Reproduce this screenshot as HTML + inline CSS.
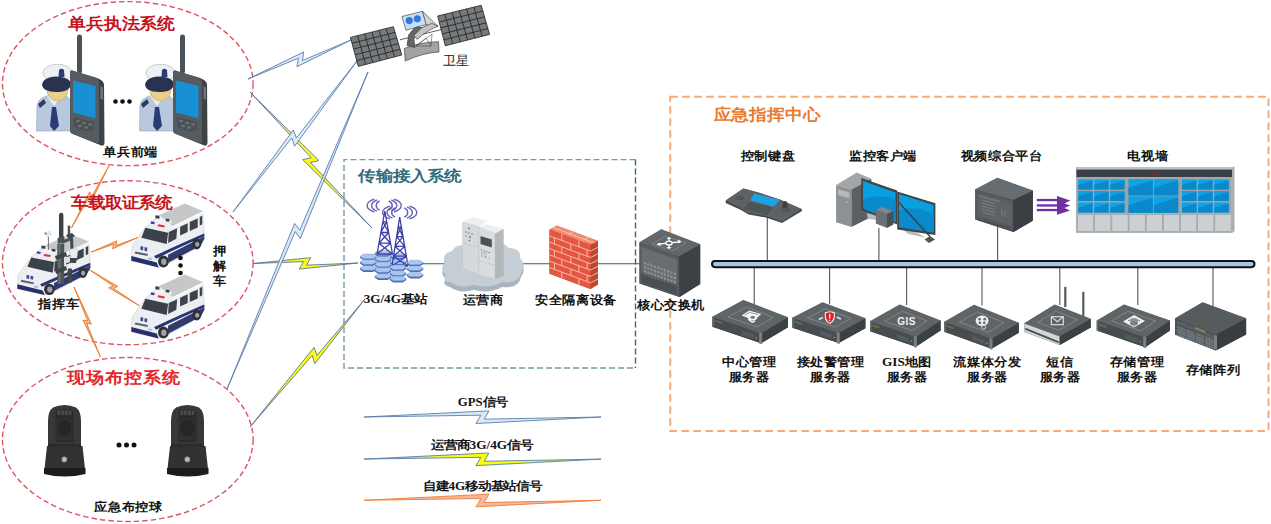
<!DOCTYPE html>
<html><head><meta charset="utf-8"><title>diagram</title>
<style>html,body{margin:0;padding:0;background:#fff;}body{width:1271px;height:524px;overflow:hidden;font-family:"Liberation Serif",serif;}svg{display:block;}</style>
</head><body>
<svg width="1271" height="524" viewBox="0 0 1271 524">
<defs>
<linearGradient id="gy" x1="0" y1="0" x2="1" y2="0"><stop offset="0" stop-color="#dbe9f6"/><stop offset="1" stop-color="#dbe9f6"/></linearGradient>
</defs>
<ellipse cx="127.8" cy="83.6" rx="125.3" ry="82" fill="none" stroke="#dc5563" stroke-width="1.4" stroke-dasharray="5.5 3"/>
<ellipse cx="127.8" cy="262.7" rx="125.3" ry="82" fill="none" stroke="#dc5563" stroke-width="1.4" stroke-dasharray="5.5 3"/>
<ellipse cx="127.8" cy="439.5" rx="125.3" ry="82" fill="none" stroke="#dc5563" stroke-width="1.4" stroke-dasharray="5.5 3"/>
<path d="M635.5,159.6 L344,159.6 L344,368 L635.5,368" fill="none" stroke="#7799a6" stroke-width="1.4" stroke-dasharray="6 3"/>
<path d="M635.5,159.6 L635.5,368" fill="none" stroke="#3b6878" stroke-width="1.4" stroke-dasharray="6 3"/>
<rect x="670.2" y="96.8" width="598.3" height="334.2" fill="none" stroke="#f3ab78" stroke-width="2" stroke-dasharray="7.6 4.4"/>
<linearGradient id="yg8" gradientUnits="userSpaceOnUse" x1="250" y1="92" x2="372" y2="228"><stop offset="0" stop-color="#a9b8c2"/><stop offset="0.3" stop-color="#f4f430"/><stop offset="0.5" stop-color="#ffff00"/><stop offset="0.72" stop-color="#f4f430"/><stop offset="1" stop-color="#a9b8c2"/></linearGradient>
<polygon points="250.0,92.0 318.9,160.6 310.6,162.5 372.0,228.0 302.7,159.6 311.2,157.8" fill="url(#yg8)" stroke="#5a7499" stroke-width="0.9" stroke-linejoin="miter"/>
<linearGradient id="yg10" gradientUnits="userSpaceOnUse" x1="253" y1="263.5" x2="358" y2="263"><stop offset="0" stop-color="#a9b8c2"/><stop offset="0.3" stop-color="#f4f430"/><stop offset="0.5" stop-color="#ffff00"/><stop offset="0.72" stop-color="#f4f430"/><stop offset="1" stop-color="#a9b8c2"/></linearGradient>
<polygon points="253.0,263.5 310.7,257.7 306.6,265.2 358.0,263.0 299.2,269.1 303.6,261.6" fill="url(#yg10)" stroke="#5a7499" stroke-width="0.9" stroke-linejoin="miter"/>
<linearGradient id="yg12" gradientUnits="userSpaceOnUse" x1="250" y1="427" x2="365" y2="299"><stop offset="0" stop-color="#a9b8c2"/><stop offset="0.3" stop-color="#f4f430"/><stop offset="0.5" stop-color="#ffff00"/><stop offset="0.72" stop-color="#f4f430"/><stop offset="1" stop-color="#a9b8c2"/></linearGradient>
<polygon points="250.0,427.0 314.1,347.4 316.9,355.5 365.0,299.0 314.8,363.6 312.2,355.4" fill="url(#yg12)" stroke="#5a7499" stroke-width="0.9" stroke-linejoin="miter"/>
<polygon points="248.0,79.0 303.7,52.0 302.5,60.5 351.0,40.0 296.9,66.7 298.4,58.2" fill="#d9eaf6" stroke="#5a7dab" stroke-width="0.9" stroke-linejoin="miter"/>
<polygon points="233.0,212.0 293.3,130.0 296.4,137.9 357.0,61.0 294.7,146.1 291.7,138.0" fill="#d9eaf6" stroke="#5a7dab" stroke-width="0.9" stroke-linejoin="miter"/>
<polygon points="227.0,389.0 294.6,223.4 299.8,230.2 368.0,72.0 300.3,238.6 295.2,231.6" fill="#d9eaf6" stroke="#5a7dab" stroke-width="0.9" stroke-linejoin="miter"/>
<polygon points="71.5,227.9 89.6,191.9 92.0,196.1 109.2,165.3 91.7,200.7 89.4,196.5" fill="#f4b8a0" stroke="#ed7d31" stroke-width="1.0" stroke-linejoin="miter"/>
<polygon points="91.1,252.1 116.8,240.9 115.8,245.6 137.7,237.6 112.5,248.8 113.6,244.2" fill="#f4b8a0" stroke="#ed7d31" stroke-width="1.0" stroke-linejoin="miter"/>
<polygon points="88.8,269.4 117.8,286.4 113.5,288.5 139.2,305.6 108.8,287.8 113.3,285.9" fill="#f4b8a0" stroke="#ed7d31" stroke-width="1.0" stroke-linejoin="miter"/>
<polygon points="74.0,287.0 91.3,324.0 86.6,323.3 100.5,357.0 83.1,320.2 87.8,321.0" fill="#f4b8a0" stroke="#ed7d31" stroke-width="1.0" stroke-linejoin="miter"/>
<polygon points="364.0,417.0 488.9,410.9 484.3,419.2 601.0,417.0 476.0,423.5 480.9,415.2" fill="#d9eaf6" stroke="#5a7dab" stroke-width="0.9" stroke-linejoin="miter"/>
<linearGradient id="yg22" gradientUnits="userSpaceOnUse" x1="364" y1="459.1" x2="601" y2="459.1"><stop offset="0" stop-color="#a9b8c2"/><stop offset="0.3" stop-color="#f4f430"/><stop offset="0.5" stop-color="#ffff00"/><stop offset="0.72" stop-color="#f4f430"/><stop offset="1" stop-color="#a9b8c2"/></linearGradient>
<polygon points="364.0,459.1 488.9,453.0 484.3,461.3 601.0,459.1 476.0,465.6 480.9,457.3" fill="url(#yg22)" stroke="#5a7dab" stroke-width="0.9" stroke-linejoin="miter"/>
<polygon points="364.0,500.3 488.9,494.2 484.3,502.5 601.0,500.3 476.0,506.8 480.9,498.5" fill="#f4b8a0" stroke="#ed7d31" stroke-width="0.9" stroke-linejoin="miter"/>
<g stroke="#555" stroke-width="1.1">
<line x1="420" y1="263.8" x2="700" y2="263.8"/>
<line x1="767.3" y1="215.7" x2="767.3" y2="261"/>
<line x1="878.9" y1="228" x2="878.9" y2="261"/>
<line x1="997.6" y1="225.6" x2="997.6" y2="261"/>
<line x1="754.2" y1="267" x2="754.2" y2="304.7"/>
<line x1="829.6" y1="267" x2="829.6" y2="304"/>
<line x1="906.6" y1="267" x2="906.6" y2="305"/>
<line x1="982" y1="267" x2="982" y2="305.5"/>
<line x1="1059.8" y1="267" x2="1059.8" y2="305"/>
<line x1="1137.8" y1="267" x2="1137.8" y2="305"/>
<line x1="1213" y1="267" x2="1213" y2="306"/>
</g>
<rect x="712" y="261" width="542.5" height="6.2" rx="3.1" fill="#a9c3e2" stroke="#111" stroke-width="2"/>

<g id="off">
 <path d="M36.5,131 L37,106 Q38,98 47,96 L66,96 Q71,98 71,106 L71,131 Z" fill="#b9c9dd" stroke="#8fa2ba" stroke-width="0.6"/>
 <path d="M38,104 L44,99 L46,103 L40,108Z" fill="#2e3a66"/>
 <path d="M47,96 L54,106 L61,96Z" fill="#e9eef4"/>
 <path d="M52,107 L56,107 L59,126 L54,131 L50,126Z" fill="#2b3b78"/>
 <ellipse cx="57.5" cy="90" rx="10.5" ry="11" fill="#e9cf8c" stroke="#b39a5c" stroke-width="0.5"/>
 <ellipse cx="57.5" cy="73" rx="14.5" ry="8.8" fill="#eef1f4" stroke="#a9aeb4" stroke-width="0.6"/>
 <path d="M42,85 Q43,77 56,76.5 Q70,77 71,84 Q70,92 56,92 Q43,92 42,85Z" fill="#2a3252"/>
 <path d="M59,70 Q61.5,67.5 64,70 L64.5,77 L58.5,77Z" fill="#2f3c78"/>
 <rect x="77" y="34.5" width="5" height="39" rx="2.5" fill="#4b5257"/>
 <path d="M72,70.5 L97,78 Q103,80 104,84 L104.5,143 Q104,147 100,145 L73,134 Q70,133 70,130 L70,73 Q70,70 72,70.5Z" fill="#3c4246"/>
 <path d="M72,70.5 L96,77.8 Q99,79 99,82 L99,141 Q99,144 96,143 L73,134 Q70,133 70,130 L70,73 Q70,70 72,70.5Z" fill="#555b60"/>
 <path d="M100.5,86 L103,87.5 L103,100 L100.5,98.5Z" fill="#70767a"/>
 <path d="M73,80.5 L95.5,86 L95.5,118.5 L73,112.5Z" fill="#1890d6"/>
 <path d="M74,117 L94,122 L94,130 Q84,133 74,126Z" fill="#4a5054"/>
 <g fill="#6d7377"><ellipse cx="78" cy="121" rx="2" ry="1.2"/><ellipse cx="84" cy="123" rx="2" ry="1.2"/><ellipse cx="90" cy="124.5" rx="2" ry="1.2"/><ellipse cx="80" cy="126" rx="2" ry="1.2"/><ellipse cx="86" cy="127.5" rx="2" ry="1.2"/></g>
</g>
<use href="#off" transform="translate(103,0)"/>
<g fill="#111"><circle cx="115.5" cy="101.5" r="2.3"/><circle cx="122.5" cy="101.5" r="2.3"/><circle cx="129.5" cy="101.5" r="2.3"/></g>
<g transform="translate(128,200)">
<g id="van"><g transform="scale(0.13356)">
 <path d="M30,345 L130,205 L235,115 L425,28 L560,85 L572,275 L545,340 L300,480 L230,505 L25,455Z" fill="#eceef1" stroke="#b4b9bf" stroke-width="3"/>
 <path d="M235,115 L425,28 L560,85 L335,195Z" fill="#c5c7c9"/>
 <path d="M335,195 L560,85 L562,105 L338,215Z" fill="#f6f7f8"/>
 <path d="M130,208 L300,245 L290,330 L100,282Z" fill="#3b4148"/>
 <path d="M305,240 L368,212 L362,290 L300,322Z M390,200 L447,174 L447,240 L390,266Z M462,165 L522,138 L522,205 L462,232Z M537,128 L556,118 L556,182 L537,192Z" fill="#3d434a"/>
 <path d="M195,420 Q330,355 570,250 L572,272 Q330,380 210,440Z" fill="#2a3470"/>
 <path d="M300,410 L572,272 L572,290 L545,340 L300,470Z" fill="#2f3a6e"/>
 <path d="M25,420 L215,468 L230,505 L25,455Z" fill="#28306a"/>
 <path d="M55,385 L150,405 L145,420 L50,400Z" fill="#5d6470"/>
 <ellipse cx="165" cy="440" rx="20" ry="10" fill="#b9c7d4"/>
 <path d="M95,345 L115,350 L112,378 L92,372Z M125,352 L145,357 L142,385 L122,379Z" fill="#3e4d8c"/>
 <path d="M205,138 L320,150 L330,175 L215,165Z" fill="#f2f3f5"/>
 <path d="M225,182 L275,190 L272,205 L222,197Z" fill="#e5303c"/>
 <path d="M172,160 L200,165 L198,182 L170,177Z" fill="#3340b4"/>
 <path d="M205,115 L235,118 L235,140 L205,137Z M282,140 L310,143 L310,163 L282,160Z" fill="#3c4046"/>
 <ellipse cx="265" cy="460" rx="40" ry="45" fill="#2d3134"/><ellipse cx="268" cy="462" rx="20" ry="24" fill="#9ca2a7"/>
 <ellipse cx="515" cy="330" rx="33" ry="40" fill="#2d3134"/><ellipse cx="518" cy="332" rx="16" ry="20" fill="#9ca2a7"/>
</g></g></g>
<g transform="translate(128,271)"><use href="#van"/></g>
<g fill="#111"><circle cx="180.5" cy="258" r="2.3"/><circle cx="180.5" cy="265.5" r="2.3"/><circle cx="180.5" cy="273" r="2.3"/></g>
<g transform="translate(14,231) scale(1.0,0.95)"><use href="#van"/></g>
<g>
 <rect x="59" y="212.7" width="4.4" height="26" rx="2.2" fill="#3b4245"/>
 <rect x="67.7" y="225.6" width="2.5" height="10" fill="#4a5256"/>
 <path d="M66,235 L72,233 L75,236 L69,239Z" fill="#40484b"/>
 <path d="M57.5,238 L64,236 L65,242 L58,244Z" fill="#4a5256"/>
 <path d="M60.8,241 L72,236.8 L73,239.5 L62,244Z" fill="#4c5458"/>
 <path d="M70,238 L73,237 L73.5,250 L70.5,251Z" fill="#454c50"/>
 <rect x="57.3" y="244" width="6.9" height="40" fill="#4b5357"/>
 <rect x="58.5" y="244" width="2" height="40" fill="#6a7276"/>
 <path d="M55,256 L66,252 L67,256 L56,260Z" fill="#3e4548"/>
 <path d="M55,270 L66,266 L67,270 L56,274Z" fill="#3e4548"/>
 <path d="M64,258 L70,256 L70,262 L64,264Z" fill="#dde0e2"/>
 <path d="M69.4,249.5 Q73.7,247.5 78,249.5 L77,258 Q73.5,261 70.5,258Z" fill="#e9ebec" stroke="#a7acb0" stroke-width="0.4"/>
 <path d="M70.5,258 L77,258 L76,263 L71.5,263Z" fill="#3f474a"/>
 <rect x="67.7" y="268.6" width="4.3" height="13.8" rx="1" fill="#3e4548"/>
 <rect x="47.9" y="236" width="1" height="14" fill="#6a7074"/>
 <path d="M44.5,232 L50,230.8 L52.2,235 L47,237.7Z" fill="#dbe6f0"/>
 <circle cx="45.5" cy="233.5" r="1.1" fill="#3a7fcf"/>
</g>

<g id="cam">
 <path d="M47,446 L82.5,446 L85,469 L44.5,469Z" fill="#323232"/>
 <path d="M44,468 L85.5,468 L85.5,474 Q64.5,479 44,474Z" fill="#1c1c1c"/>
 <path d="M48,446 L48,421 Q48,411 53,407.5 Q58,405 64.5,405 Q71,405 76,407.5 Q81,411 81,421 L81,446Z" fill="#383838"/>
 <path d="M55.5,442 L55.5,413 Q55.5,409.5 59,409.5 L70,409.5 Q73.5,409.5 73.5,413 L73.5,442Z" fill="#2a2a2a"/>
 <path d="M57.5,410.5 L71.5,410.5 L71.5,415 L57.5,415Z" fill="#4a4a4a"/>
 <g stroke="#2a2a2a" stroke-width="0.8"><path d="M60.5,410.5 V415 M64.5,410.5 V415 M68.5,410.5 V415"/></g>
 <path d="M56.5,420 Q64.5,416 72.5,420 L72.5,440 L56.5,440Z" fill="#303030"/>
 <ellipse cx="64.5" cy="428" rx="7" ry="8" fill="#262626"/>
 <path d="M48,444 L81,444 L81,447 L48,447Z" fill="#2b2b2b"/>
 <circle cx="64.3" cy="459.4" r="2.8" fill="#a0a0a0"/>
 <circle cx="64.3" cy="459.4" r="1.2" fill="#d0d0d0"/>
</g>
<use href="#cam" transform="translate(123,0)"/>
<g fill="#111"><circle cx="119" cy="445" r="2.5"/><circle cx="126.5" cy="445" r="2.5"/><circle cx="134" cy="445" r="2.5"/></g>
<line x1="400" y1="39.8" x2="442" y2="29.4" stroke="#333" stroke-width="0.8"/>
<path d="M350.4,37.4 L393.4,26.7 L401.8,55 L358.3,66.4Z" fill="#777a7c" stroke="#222" stroke-width="0.8"/><path d="M357.6,35.6 L365.6,64.5 M364.7,33.8 L372.8,62.6 M371.9,32.0 L380.1,60.7 M379.1,30.3 L387.3,58.8 M386.2,28.5 L394.6,56.9 M352.0,43.2 L395.1,32.4 M353.6,49.0 L396.8,38.0 M355.1,54.8 L398.4,43.7 M356.7,60.6 L400.1,49.3" stroke="#1e1e1e" stroke-width="0.8" fill="none"/>
<path d="M437.7,16 L481.2,5.3 L489.6,34.4 L445.3,45.8Z" fill="#777a7c" stroke="#222" stroke-width="0.8"/><path d="M444.9,14.2 L452.7,43.9 M452.2,12.4 L460.1,42.0 M459.4,10.7 L467.5,40.1 M466.7,8.9 L474.8,38.2 M473.9,7.1 L482.2,36.3 M439.2,22.0 L482.9,11.1 M440.7,27.9 L484.6,16.9 M442.3,33.9 L486.2,22.8 M443.8,39.8 L487.9,28.6" stroke="#1e1e1e" stroke-width="0.8" fill="none"/>
<g stroke="#333" stroke-width="0.6">
 <path d="M401.9,16.5 L422.5,11.3 L426.5,24.5 L405.9,30.2Z" fill="#c5e0f7"/>
 <circle cx="409.3" cy="20.6" r="3.3" fill="#2f78ef" stroke="#2a4a8a" stroke-width="0.4"/>
 <circle cx="417.3" cy="18.8" r="3.3" fill="#2f78ef" stroke="#2a4a8a" stroke-width="0.4"/>
 <path d="M422.5,11.3 L438,26.2 L426.2,25Z" fill="#d4d4d4"/>
 <path d="M404.2,48.5 Q420,42 438.5,41.7 L439,52 Q422,53 405.3,61.1Z" fill="#a3a3a3"/>
 <path d="M416,46 L432,34 L431,46Z M416,46 L426,38 L431,46" fill="none" stroke="#333" stroke-width="0.5"/>
 <path d="M407,45.6 L408.7,34.8 L413.9,28.5 L417.9,26.8 L422.5,27.9 L416.2,33.6 L413.9,39.4 L415,47.4Z" fill="#666"/>
 <path d="M413.9,35.4 L421.4,27.9 L431.7,23.3 L438,26.2 L430.5,29.6 L422.5,34.8 L417.3,39.4Z" fill="#c2c2c2"/>
</g>
<text x="443" y="65" font-size="12.5" fill="#222" font-family="Liberation Serif, serif">卫星</text>
<g><path d="M374.75,253 L374.75,254.6 L378.25,256.90000000000003 L387.75,256.90000000000003 L391.25,254.6 L391.25,253Z" fill="#4a6cb4"/><path d="M374.75,253 L378.25,250.7 L387.75,250.7 L391.25,253 L387.75,255.3 L378.25,255.3Z" fill="#aac6ee" stroke="#7092d0" stroke-width="0.4"/><path d="M389.75,255.8 L389.75,257.40000000000003 L393.25,259.70000000000005 L402.75,259.70000000000005 L406.25,257.40000000000003 L406.25,255.8Z" fill="#4a6cb4"/><path d="M389.75,255.8 L393.25,253.5 L402.75,253.5 L406.25,255.8 L402.75,258.1 L393.25,258.1Z" fill="#aac6ee" stroke="#7092d0" stroke-width="0.4"/><path d="M360.05,256.4 L360.05,258.0 L363.55,260.3 L373.05,260.3 L376.55,258.0 L376.55,256.4Z" fill="#4a6cb4"/><path d="M360.05,256.4 L363.55,254.09999999999997 L373.05,254.09999999999997 L376.55,256.4 L373.05,258.7 L363.55,258.7Z" fill="#aac6ee" stroke="#7092d0" stroke-width="0.4"/><path d="M374.75,258.7 L374.75,260.3 L378.25,262.6 L387.75,262.6 L391.25,260.3 L391.25,258.7Z" fill="#4a6cb4"/><path d="M374.75,258.7 L378.25,256.4 L387.75,256.4 L391.25,258.7 L387.75,261.0 L378.25,261.0Z" fill="#aac6ee" stroke="#7092d0" stroke-width="0.4"/><path d="M389.75,261.6 L389.75,263.20000000000005 L393.25,265.50000000000006 L402.75,265.50000000000006 L406.25,263.20000000000005 L406.25,261.6Z" fill="#4a6cb4"/><path d="M389.75,261.6 L393.25,259.3 L402.75,259.3 L406.25,261.6 L402.75,263.90000000000003 L393.25,263.90000000000003Z" fill="#aac6ee" stroke="#7092d0" stroke-width="0.4"/></g>
<path d="M384.8,211 L377,254 M384.8,211 L392.5,254 M382.9,221.8 L386.7,221.8 M380.9,232.5 L388.6,232.5 M382.9,221.8 L388.6,232.5 M386.7,221.8 L380.9,232.5 M378.9,243.2 L390.6,243.2 M380.9,232.5 L390.6,243.2 M388.6,232.5 L378.9,243.2 M377.0,254.0 L392.5,254.0 M378.9,243.2 L392.5,254.0 M390.6,243.2 L377.0,254.0" stroke="#3d3da6" stroke-width="1.3" fill="none"/>
<path d="M399.7,217 L392,266 M399.7,217 L408,266 M398.2,226.8 L401.4,226.8 M396.6,236.6 L403.0,236.6 M398.2,226.8 L403.0,236.6 M401.4,226.8 L396.6,236.6 M395.1,246.4 L404.7,246.4 M396.6,236.6 L404.7,246.4 M403.0,236.6 L395.1,246.4 M393.5,256.2 L406.3,256.2 M395.1,246.4 L406.3,256.2 M404.7,246.4 L393.5,256.2 M392.0,266.0 L408.0,266.0 M393.5,256.2 L408.0,266.0 M406.3,256.2 L392.0,266.0" stroke="#3d3da6" stroke-width="1.3" fill="none"/>
<g><path d="M360.05,262 L360.05,263.6 L363.55,265.90000000000003 L373.05,265.90000000000003 L376.55,263.6 L376.55,262Z" fill="#4a6cb4"/><path d="M360.05,262 L363.55,259.7 L373.05,259.7 L376.55,262 L373.05,264.3 L363.55,264.3Z" fill="#aac6ee" stroke="#7092d0" stroke-width="0.4"/><path d="M406.75,262.5 L406.75,264.1 L410.25,266.40000000000003 L419.75,266.40000000000003 L423.25,264.1 L423.25,262.5Z" fill="#4a6cb4"/><path d="M406.75,262.5 L410.25,260.2 L419.75,260.2 L423.25,262.5 L419.75,264.8 L410.25,264.8Z" fill="#aac6ee" stroke="#7092d0" stroke-width="0.4"/><path d="M374.75,264.4 L374.75,266.0 L378.25,268.3 L387.75,268.3 L391.25,266.0 L391.25,264.4Z" fill="#4a6cb4"/><path d="M374.75,264.4 L378.25,262.09999999999997 L387.75,262.09999999999997 L391.25,264.4 L387.75,266.7 L378.25,266.7Z" fill="#aac6ee" stroke="#7092d0" stroke-width="0.4"/><path d="M389.75,267.3 L389.75,268.90000000000003 L393.25,271.20000000000005 L402.75,271.20000000000005 L406.25,268.90000000000003 L406.25,267.3Z" fill="#4a6cb4"/><path d="M389.75,267.3 L393.25,265.0 L402.75,265.0 L406.25,267.3 L402.75,269.6 L393.25,269.6Z" fill="#aac6ee" stroke="#7092d0" stroke-width="0.4"/><path d="M360.05,268 L360.05,269.6 L363.55,271.90000000000003 L373.05,271.90000000000003 L376.55,269.6 L376.55,268Z" fill="#4a6cb4"/><path d="M360.05,268 L363.55,265.7 L373.05,265.7 L376.55,268 L373.05,270.3 L363.55,270.3Z" fill="#aac6ee" stroke="#7092d0" stroke-width="0.4"/><path d="M406.75,268.2 L406.75,269.8 L410.25,272.1 L419.75,272.1 L423.25,269.8 L423.25,268.2Z" fill="#4a6cb4"/><path d="M406.75,268.2 L410.25,265.9 L419.75,265.9 L423.25,268.2 L419.75,270.5 L410.25,270.5Z" fill="#aac6ee" stroke="#7092d0" stroke-width="0.4"/><path d="M374.75,270 L374.75,271.6 L378.25,273.90000000000003 L387.75,273.90000000000003 L391.25,271.6 L391.25,270Z" fill="#4a6cb4"/><path d="M374.75,270 L378.25,267.7 L387.75,267.7 L391.25,270 L387.75,272.3 L378.25,272.3Z" fill="#aac6ee" stroke="#7092d0" stroke-width="0.4"/><path d="M389.75,273 L389.75,274.6 L393.25,276.90000000000003 L402.75,276.90000000000003 L406.25,274.6 L406.25,273Z" fill="#4a6cb4"/><path d="M389.75,273 L393.25,270.7 L402.75,270.7 L406.25,273 L402.75,275.3 L393.25,275.3Z" fill="#aac6ee" stroke="#7092d0" stroke-width="0.4"/><path d="M406.75,274.5 L406.75,276.1 L410.25,278.40000000000003 L419.75,278.40000000000003 L423.25,276.1 L423.25,274.5Z" fill="#4a6cb4"/><path d="M406.75,274.5 L410.25,272.2 L419.75,272.2 L423.25,274.5 L419.75,276.8 L410.25,276.8Z" fill="#aac6ee" stroke="#7092d0" stroke-width="0.4"/><path d="M374.75,276 L374.75,277.6 L378.25,279.90000000000003 L387.75,279.90000000000003 L391.25,277.6 L391.25,276Z" fill="#4a6cb4"/><path d="M374.75,276 L378.25,273.7 L387.75,273.7 L391.25,276 L387.75,278.3 L378.25,278.3Z" fill="#aac6ee" stroke="#7092d0" stroke-width="0.4"/><path d="M389.75,278.5 L389.75,280.1 L393.25,282.40000000000003 L402.75,282.40000000000003 L406.25,280.1 L406.25,278.5Z" fill="#4a6cb4"/><path d="M389.75,278.5 L393.25,276.2 L402.75,276.2 L406.25,278.5 L402.75,280.8 L393.25,280.8Z" fill="#aac6ee" stroke="#7092d0" stroke-width="0.4"/></g>
<g fill="none" stroke="#6462bd" stroke-width="1.4"><path d="M379.6,201.0 A8,5.6 0 0 0 379.6,210.2"/><path d="M388.8,201.0 A8,5.6 0 0 1 388.8,210.2"/><path d="M377.0,200.0 A12.5,6.8 0 0 0 377.0,211.2"/><path d="M391.4,200.0 A12.5,6.8 0 0 1 391.4,211.2"/><path d="M374.4,199.2 A17,7.8 0 0 0 374.4,212.0"/><path d="M394.0,199.2 A17,7.8 0 0 1 394.0,212.0"/></g>
<g fill="none" stroke="#6462bd" stroke-width="1.4"><path d="M395.1,207.9 A8,5.6 0 0 0 395.1,217.1"/><path d="M404.3,207.9 A8,5.6 0 0 1 404.3,217.1"/><path d="M392.5,206.9 A12.5,6.8 0 0 0 392.5,218.1"/><path d="M406.9,206.9 A12.5,6.8 0 0 1 406.9,218.1"/><path d="M389.9,206.1 A17,7.8 0 0 0 389.9,218.9"/><path d="M409.5,206.1 A17,7.8 0 0 1 409.5,218.9"/></g>
<path d="M446,279 Q439,273 445,266 Q441,258 452,255 Q456,247 469,250 Q477,243 490,248 Q502,244 509,252 Q521,252 520,262 Q527,269 521,277 Q519,289 502,287 Q490,294 474,290 Q459,294 450,287 Q441,285 446,279Z" fill="#a8b5bf"/>
<path d="M446,275 Q439,269 445,262 Q441,254 452,251 Q456,243 469,246 Q477,239 490,244 Q502,240 509,248 Q521,248 520,258 Q527,265 521,273 Q519,284 502,282 Q490,289 474,285 Q459,289 450,282 Q441,281 446,275Z" fill="#c6ced5"/>
<g>
 <path d="M462.5,222.2 L473.7,217 L487.4,221.3 L478.8,226.5Z" fill="#eceeef"/>
 <path d="M462.5,222.2 L478.8,226.5 L478.8,274.6 L462.5,268.6Z" fill="#d6d9db" stroke="#b0b4b7" stroke-width="0.3"/>
 <path d="M478.8,227.3 L486.5,223.9 L503.7,229 L495,233.4Z" fill="#eceeef"/>
 <path d="M478.8,227.3 L495,233.4 L495,278.9 L478.8,275Z" fill="#dadddf" stroke="#b0b4b7" stroke-width="0.3"/>
 <path d="M495,233.4 L503.7,229 L503.7,276.3 L495,278.9Z" fill="#b3b8bb"/>
 <path d="M463,243 L478.5,247 M479,261 L494.5,265" stroke="#b9bdc0" stroke-width="0.5"/>
 <path d="M480.5,236 L491.8,239.5 L491.8,247.5 L480.5,244Z" fill="#4a5157"/>
 <g fill="#777"><circle cx="469" cy="228.5" r="0.9"/><circle cx="466" cy="232" r="0.8"/><circle cx="469" cy="233" r="0.8"/><circle cx="472" cy="234" r="0.8"/><circle cx="470" cy="237" r="1"/></g>
 <g fill="#888"><circle cx="481.5" cy="250" r="0.8"/><circle cx="484" cy="251" r="0.8"/><circle cx="486.5" cy="251.8" r="0.8"/><circle cx="489" cy="252.5" r="0.8"/><circle cx="482" cy="253" r="0.8"/><circle cx="485" cy="254" r="0.8"/></g>
 <g><circle cx="466" cy="236" r="0.8" fill="#4a4"/><circle cx="469.5" cy="240.5" r="0.8" fill="#d33"/><circle cx="482" cy="256" r="0.7" fill="#4a4"/><circle cx="485.5" cy="257" r="0.7" fill="#d33"/><circle cx="489" cy="258" r="0.7" fill="#e93"/></g>
</g>
<g><path d="M549.5,229.5 L556.8,225.7 L598,241 L598,284.5 L590.4,289.1 L549.5,273.8Z" fill="#c94a36"/><path d="M549.5,229.5 L556.8,225.7 L598,241 L590.4,244.8Z" fill="#ee8a6e" stroke="#ee8a6e" stroke-width="0.3"/><path d="M590.4,244.8 L598,241 L598,284.5 L590.4,289.1Z" fill="#bf4633"/><path d="M549.5,229.5 L590.4,244.8 L590.4,289.1 L549.5,273.8Z" fill="#e4563f"/><path d="M549.5,235.8 L590.4,251.1 L598,247.3 M549.5,242.2 L590.4,257.5 L598,253.7 M549.5,248.5 L590.4,263.8 L598,260.0 M549.5,254.8 L590.4,270.1 L598,266.3 M549.5,261.1 L590.4,276.4 L598,272.6 M549.5,267.5 L590.4,282.8 L598,279.0 M561.8,234.1 L561.8,240.4 M578.9,240.5 L578.9,246.8 M554.4,237.7 L554.4,244.0 M570.8,243.8 L570.8,250.1 M587.1,249.9 L587.1,256.2 M561.8,246.7 L561.8,253.1 M578.9,253.2 L578.9,259.5 M554.4,250.3 L554.4,256.7 M570.8,256.4 L570.8,262.8 M587.1,262.6 L587.1,268.9 M561.8,259.4 L561.8,265.7 M578.9,265.8 L578.9,272.2 M554.4,263.0 L554.4,269.3 M570.8,269.1 L570.8,275.4 M587.1,275.2 L587.1,281.5 M561.8,272.1 L561.8,278.4 M578.9,278.5 L578.9,284.8 M553,227.6 L594.2,242.9 M568,234.5 L575,230.8 M583,240.3 L590,236.5" stroke="#f6c7b8" stroke-width="0.9" fill="none"/></g>
<g>
 <path d="M639.5,242.6 L661.3,229.5 L700.2,244.4 L700.2,284.1 L679.6,297.1 L639.5,283.4Z" fill="#43484c"/>
 <path d="M639.5,242.6 L661.3,229.5 L700.2,244.4 L678.9,256.6Z" fill="#62676b" stroke="#62676b" stroke-width="0.5"/>
 <path d="M639.5,242.6 L678.9,256.6 L679.6,297.1 L639.5,283.4Z" fill="#565b5f"/>
 <path d="M678.9,256.6 L700.2,244.4 L700.2,284.1 L679.6,297.1Z" fill="#3c4146"/>
 <path d="M641.5,247 L677,259.5 L677,284 L641.5,272Z" fill="#676d71"/>
 <rect x="644.0" y="262.0" width="2.2" height="2.4" fill="#8a9094"/><rect x="647.3" y="263.2" width="2.2" height="2.4" fill="#8a9094"/><rect x="650.6" y="264.3" width="2.2" height="2.4" fill="#8a9094"/><rect x="653.9" y="265.5" width="2.2" height="2.4" fill="#8a9094"/><rect x="657.2" y="266.7" width="2.2" height="2.4" fill="#8a9094"/><rect x="660.5" y="267.9" width="2.2" height="2.4" fill="#8a9094"/><rect x="663.8" y="269.0" width="2.2" height="2.4" fill="#8a9094"/><rect x="667.1" y="270.2" width="2.2" height="2.4" fill="#8a9094"/><rect x="670.4" y="271.4" width="2.2" height="2.4" fill="#8a9094"/><rect x="673.7" y="272.6" width="2.2" height="2.4" fill="#8a9094"/><rect x="644.0" y="266.2" width="2.2" height="2.4" fill="#8a9094"/><rect x="647.3" y="267.4" width="2.2" height="2.4" fill="#8a9094"/><rect x="650.6" y="268.5" width="2.2" height="2.4" fill="#8a9094"/><rect x="653.9" y="269.7" width="2.2" height="2.4" fill="#8a9094"/><rect x="657.2" y="270.9" width="2.2" height="2.4" fill="#8a9094"/><rect x="660.5" y="272.1" width="2.2" height="2.4" fill="#8a9094"/><rect x="663.8" y="273.2" width="2.2" height="2.4" fill="#8a9094"/><rect x="667.1" y="274.4" width="2.2" height="2.4" fill="#8a9094"/><rect x="670.4" y="275.6" width="2.2" height="2.4" fill="#8a9094"/><rect x="673.7" y="276.8" width="2.2" height="2.4" fill="#8a9094"/><rect x="644.0" y="270.4" width="2.2" height="2.4" fill="#8a9094"/><rect x="647.3" y="271.6" width="2.2" height="2.4" fill="#8a9094"/><rect x="650.6" y="272.7" width="2.2" height="2.4" fill="#8a9094"/><rect x="653.9" y="273.9" width="2.2" height="2.4" fill="#8a9094"/><rect x="657.2" y="275.1" width="2.2" height="2.4" fill="#8a9094"/><rect x="660.5" y="276.3" width="2.2" height="2.4" fill="#8a9094"/><rect x="663.8" y="277.4" width="2.2" height="2.4" fill="#8a9094"/><rect x="667.1" y="278.6" width="2.2" height="2.4" fill="#8a9094"/><rect x="670.4" y="279.8" width="2.2" height="2.4" fill="#8a9094"/><rect x="673.7" y="281.0" width="2.2" height="2.4" fill="#8a9094"/><rect x="644.0" y="274.6" width="2.2" height="2.4" fill="#8a9094"/><rect x="647.3" y="275.8" width="2.2" height="2.4" fill="#8a9094"/><rect x="650.6" y="276.9" width="2.2" height="2.4" fill="#8a9094"/><rect x="653.9" y="278.1" width="2.2" height="2.4" fill="#8a9094"/><rect x="657.2" y="279.3" width="2.2" height="2.4" fill="#8a9094"/><rect x="660.5" y="280.5" width="2.2" height="2.4" fill="#8a9094"/><rect x="663.8" y="281.6" width="2.2" height="2.4" fill="#8a9094"/><rect x="667.1" y="282.8" width="2.2" height="2.4" fill="#8a9094"/><rect x="670.4" y="284.0" width="2.2" height="2.4" fill="#8a9094"/><rect x="673.7" y="285.2" width="2.2" height="2.4" fill="#8a9094"/>
 <path d="M641.5,274 L677,286 L677,295 L641.5,282.5Z" fill="#4a4f53"/>
 <path d="M652,244 L665,236.5 L686,243 L673,250.5Z" fill="none" stroke="#8a9094" stroke-width="0.6"/>
 <g stroke="#fff" stroke-width="1.4" fill="none"><ellipse cx="669" cy="243" rx="3.2" ry="1.9"/><path d="M658,244.2 L665.5,243.4 M672.5,242.6 L680,241.8 M669,238.5 L669,241 M669,245 L669,247.5"/></g>
 <g fill="#fff"><path d="M656.5,244.4 L660,242.4 L660.5,246Z"/><path d="M681.5,241.6 L678,239.6 L678.5,243.6Z"/><path d="M669,236.8 L666.5,239 L671.5,239Z"/><path d="M669,249.2 L666.5,247 L671.5,247Z"/></g>
</g>
<g>
 <path d="M725.7,200.5 L743.4,188.6 L758.2,192.4 L781,200 L801.6,209.1 L802,211 L782,223 L765.8,217.5 L748.6,214.5 L741,210 L725.7,203Z" fill="#45494c"/>
 <path d="M725.7,200.5 L743.4,188.6 L758.2,192.4 L781,200 L801.6,209.1 L782,221.5 L765.8,215.8 L748.6,212.9 L741,208.1Z" fill="#5d6265"/>
 <path d="M753.9,193.4 L780.1,200 L773.4,206.7 L750.5,200.5Z" fill="#1ca2e3"/>
 <path d="M750.5,201.5 L773.4,207.7 L767,215 L743,208.5Z" fill="#4f5457"/>
 <ellipse cx="740" cy="198" rx="4.5" ry="2.3" fill="#50555a"/>
 <path d="M783,202 Q785,200 787,202 L788,208 Q785,210 782,208Z" fill="#3c4043"/>
 <ellipse cx="785.5" cy="210" rx="5" ry="2.5" fill="#53585b"/>
</g>
<g>
 <path d="M836.1,184.9 L856.7,172.6 L871.3,178.8 L851.4,189.4Z" fill="#a2a6a9"/>
 <path d="M836.1,184.9 L851.4,189.4 L851.4,226.9 L836.1,222.3Z" fill="#8c9194"/>
 <path d="M851.4,189.4 L871.3,178.8 L871.3,217 L851.4,226.9Z" fill="#5b6063"/>
 <path d="M838,189 L849.5,192.5 L849.5,198.5 L838,195Z" fill="#b4b8bb"/>
 <circle cx="847" cy="202" r="0.8" fill="#d8c060"/>
 <path d="M866.7,213 L875,215 L878,220 L868,219Z" fill="#b9bdc0"/>
 <path d="M900.3,227 L918,233 L925,237.5 L908,234Z" fill="#b9bdc0"/>
 <path d="M861.3,178 L897.2,190.5 L897.2,224.5 L861.3,210Z" fill="#3f4549"/>
 <path d="M863,181 L895.5,192.5 L895.5,222 L863,208.5Z" fill="#09a0e2"/>
 <path d="M863,199 Q880,193 895.5,200 L895.5,222 L863,208.5Z" fill="#0a8acb"/>
 <path d="M897.2,191.5 L935.4,203.2 L935.4,235 L897.2,229.5Z" fill="#3f4549"/>
 <path d="M899,194 L933.5,205 L933.5,232.5 L899,227Z" fill="#09a0e2"/>
 <path d="M899,210 Q917,205 933.5,214 L933.5,232.5 L899,227Z" fill="#0a8acb"/>
 <path d="M875.8,210 L882,207 L893.4,211 L887,214Z" fill="#80868a"/>
 <path d="M875.8,210 L887,214 L887,228 L875.8,223.5Z" fill="#6b7175"/>
 <path d="M887,214 L893.4,211 L893.4,224.6 L887,228Z" fill="#4a4f53"/>
 <path d="M897.5,201 L930,236.5" stroke="#3a3f43" stroke-width="1.4" fill="none"/>
 <path d="M897,200.5 L902,205" stroke="#b03030" stroke-width="1.2"/>
 <path d="M924.5,239.5 L930,236 L935,239.5 L929,243Z" fill="#50565a"/>
</g>
<g>
 <path d="M975.3,189.4 L997.4,178 L1032.8,190.7 L1032.8,220.8 L1013.4,232.1 L975.3,219.4Z" fill="#3e4246"/>
 <path d="M975.3,189.4 L997.4,178 L1032.8,190.7 L1013.4,200Z" fill="#676c70" stroke="#676c70" stroke-width="0.4"/>
 <path d="M975.3,189.4 L1013.4,200 L1013.4,232.1 L975.3,219.4Z" fill="#54595d"/>
 <path d="M1013.4,200 L1032.8,190.7 L1032.8,220.8 L1013.4,232.1Z" fill="#3b3f43"/>
 <path d="M977.5,193 L1011.5,202.5 L1011.5,226 L977.5,216Z" fill="#5d6266"/>
 <g stroke="#8a9094" stroke-width="0.6"><path d="M979,196 L1000,201.5 M982,200 L995,203.5 M982,203 L995,206.5 M982,206 L995,209.5 M982,209 L995,212.5 M982,212 L995,215.5 M1002,210 L1002,216 M1005,211 L1005,217"/></g>
 <path d="M977.5,218 L1011.5,228 L1011.5,230 L977.5,220Z" fill="#4a4f53"/>
</g>
<g fill="#7030a0">
 <rect x="1036.8" y="198.9" width="22" height="2.3"/><rect x="1036.8" y="204.3" width="22" height="2.3"/><rect x="1036.8" y="208.9" width="22" height="2.3"/>
 <path d="M1057,196 L1070.2,200.5 L1064.5,203.5 L1070.2,205.5 L1064.5,208 L1070.2,210.5 L1057,214.7Z"/>
</g>
<g><path d="M1232.7,167.7 L1234.5,166 L1234.5,231 L1232.7,232.6Z" fill="#aaa"/><rect x="1076.2" y="167.7" width="156.5" height="65" fill="#bfc2c4" stroke="#8f9396" stroke-width="0.5"/><rect x="1076.5" y="169.6" width="155.5" height="7.6" fill="#3a3f45"/><text x="1154" y="176" font-size="5" fill="#8a2b2b" text-anchor="middle" font-family="Liberation Sans, sans-serif">LED</text><rect x="1077" y="178.2" width="154.5" height="35.3" fill="#9da2a6"/><rect x="1078.3" y="179.4" width="14.3" height="10.0" fill="#0ea2e6"/><path d="M1078.3,184.9 Q1085.5,181.9 1092.6,180.4 L1092.6,189.4 L1078.3,189.4Z" fill="#0a88c9"/><rect x="1078.3" y="191.0" width="14.3" height="10.0" fill="#0ea2e6"/><path d="M1078.3,196.4 Q1085.5,193.5 1092.6,192.0 L1092.6,200.9 L1078.3,200.9Z" fill="#0a88c9"/><rect x="1078.3" y="202.5" width="14.3" height="10.0" fill="#0ea2e6"/><path d="M1078.3,208.0 Q1085.5,205.0 1092.6,203.5 L1092.6,212.5 L1078.3,212.5Z" fill="#0a88c9"/><rect x="1094.2" y="179.4" width="14.3" height="10.0" fill="#0ea2e6"/><path d="M1094.2,184.9 Q1101.4,181.9 1108.6,180.4 L1108.6,189.4 L1094.2,189.4Z" fill="#0a88c9"/><rect x="1094.2" y="191.0" width="14.3" height="10.0" fill="#0ea2e6"/><path d="M1094.2,196.4 Q1101.4,193.5 1108.6,192.0 L1108.6,200.9 L1094.2,200.9Z" fill="#0a88c9"/><rect x="1094.2" y="202.5" width="14.3" height="10.0" fill="#0ea2e6"/><path d="M1094.2,208.0 Q1101.4,205.0 1108.6,203.5 L1108.6,212.5 L1094.2,212.5Z" fill="#0a88c9"/><rect x="1110.2" y="179.4" width="14.3" height="10.0" fill="#0ea2e6"/><path d="M1110.2,184.9 Q1117.3,181.9 1124.5,180.4 L1124.5,189.4 L1110.2,189.4Z" fill="#0a88c9"/><rect x="1110.2" y="191.0" width="14.3" height="10.0" fill="#0ea2e6"/><path d="M1110.2,196.4 Q1117.3,193.5 1124.5,192.0 L1124.5,200.9 L1110.2,200.9Z" fill="#0a88c9"/><rect x="1110.2" y="202.5" width="14.3" height="10.0" fill="#0ea2e6"/><path d="M1110.2,208.0 Q1117.3,205.0 1124.5,203.5 L1124.5,212.5 L1110.2,212.5Z" fill="#0a88c9"/><rect x="1128.5" y="179.1" width="24.4" height="16.4" fill="#0ea2e6"/><path d="M1128.5,188.1 Q1140.7,183.2 1152.8,180.7 L1152.8,195.4 L1128.5,195.4Z" fill="#0a88c9"/><rect x="1128.5" y="196.4" width="24.4" height="16.4" fill="#0ea2e6"/><path d="M1128.5,205.4 Q1140.7,200.5 1152.8,198.1 L1152.8,212.8 L1128.5,212.8Z" fill="#0a88c9"/><rect x="1153.8" y="179.1" width="24.4" height="16.4" fill="#0ea2e6"/><path d="M1153.8,188.1 Q1166.0,183.2 1178.2,180.7 L1178.2,195.4 L1153.8,195.4Z" fill="#0a88c9"/><rect x="1153.8" y="196.4" width="24.4" height="16.4" fill="#0ea2e6"/><path d="M1153.8,205.4 Q1166.0,200.5 1178.2,198.1 L1178.2,212.8 L1153.8,212.8Z" fill="#0a88c9"/><rect x="1182.0" y="179.4" width="14.5" height="10.0" fill="#0ea2e6"/><path d="M1182.0,184.9 Q1189.2,181.9 1196.5,180.4 L1196.5,189.4 L1182.0,189.4Z" fill="#0a88c9"/><rect x="1182.0" y="191.0" width="14.5" height="10.0" fill="#0ea2e6"/><path d="M1182.0,196.4 Q1189.2,193.5 1196.5,192.0 L1196.5,200.9 L1182.0,200.9Z" fill="#0a88c9"/><rect x="1182.0" y="202.5" width="14.5" height="10.0" fill="#0ea2e6"/><path d="M1182.0,208.0 Q1189.2,205.0 1196.5,203.5 L1196.5,212.5 L1182.0,212.5Z" fill="#0a88c9"/><rect x="1198.1" y="179.4" width="14.5" height="10.0" fill="#0ea2e6"/><path d="M1198.1,184.9 Q1205.3,181.9 1212.6,180.4 L1212.6,189.4 L1198.1,189.4Z" fill="#0a88c9"/><rect x="1198.1" y="191.0" width="14.5" height="10.0" fill="#0ea2e6"/><path d="M1198.1,196.4 Q1205.3,193.5 1212.6,192.0 L1212.6,200.9 L1198.1,200.9Z" fill="#0a88c9"/><rect x="1198.1" y="202.5" width="14.5" height="10.0" fill="#0ea2e6"/><path d="M1198.1,208.0 Q1205.3,205.0 1212.6,203.5 L1212.6,212.5 L1198.1,212.5Z" fill="#0a88c9"/><rect x="1214.2" y="179.4" width="14.5" height="10.0" fill="#0ea2e6"/><path d="M1214.2,184.9 Q1221.5,181.9 1228.7,180.4 L1228.7,189.4 L1214.2,189.4Z" fill="#0a88c9"/><rect x="1214.2" y="191.0" width="14.5" height="10.0" fill="#0ea2e6"/><path d="M1214.2,196.4 Q1221.5,193.5 1228.7,192.0 L1228.7,200.9 L1214.2,200.9Z" fill="#0a88c9"/><rect x="1214.2" y="202.5" width="14.5" height="10.0" fill="#0ea2e6"/><path d="M1214.2,208.0 Q1221.5,205.0 1228.7,203.5 L1228.7,212.5 L1214.2,212.5Z" fill="#0a88c9"/><rect x="1077.5" y="214.6" width="16.2" height="16.8" fill="#cdd0d2" stroke="#8d9194" stroke-width="0.5"/><rect x="1094.7" y="214.6" width="16.2" height="16.8" fill="#cdd0d2" stroke="#8d9194" stroke-width="0.5"/><rect x="1111.9" y="214.6" width="16.2" height="16.8" fill="#cdd0d2" stroke="#8d9194" stroke-width="0.5"/><rect x="1129.0" y="214.6" width="16.2" height="16.8" fill="#cdd0d2" stroke="#8d9194" stroke-width="0.5"/><rect x="1146.2" y="214.6" width="16.2" height="16.8" fill="#cdd0d2" stroke="#8d9194" stroke-width="0.5"/><rect x="1163.4" y="214.6" width="16.2" height="16.8" fill="#cdd0d2" stroke="#8d9194" stroke-width="0.5"/><rect x="1180.6" y="214.6" width="16.2" height="16.8" fill="#cdd0d2" stroke="#8d9194" stroke-width="0.5"/><rect x="1197.7" y="214.6" width="16.2" height="16.8" fill="#cdd0d2" stroke="#8d9194" stroke-width="0.5"/><rect x="1214.9" y="214.6" width="16.2" height="16.8" fill="#cdd0d2" stroke="#8d9194" stroke-width="0.5"/></g>
<path d="M712.4,316.9 L743.4,300.3 L788,317.5 L788,327.3 L761.1,343.3 L712.4,326.7Z" fill="#43484b"/><path d="M712.4,316.9 L743.4,300.3 L788,317.5 L761.1,333.5Z" fill="#5f6467" stroke="#5f6467" stroke-width="0.4"/><path d="M712.4,316.9 L761.1,333.5 L761.1,343.3 L712.4,326.7Z" fill="#474c50"/><path d="M761.1,333.5 L788,317.5 L788,327.3 L761.1,343.3Z" fill="#3b4043"/><path d="M712.4,316.4 L713.9,317.2 L713.9,327.5 L712.4,326.7Z" fill="#6a7074"/><path d="M759.1,332.5 L762.1,333.0 L762.1,344.3 L759.1,343.5Z" fill="#7a8084"/><path d="M741.6,330.3 L753.8,334.4 L753.8,338.8 L741.6,334.7Z" fill="#545a5e"/><path d="M714.8,319.7 L722.1,322.2 L722.1,324.1 L714.8,321.6Z" fill="#5e7a3a"/><circle cx="756.2" cy="337.7" r="0.7" fill="#d0a030"/><path d="M727.9,317.0 L746.5,307.0 L773.3,317.3 L757.1,326.9Z" fill="none" stroke="#8d9397" stroke-width="0.7" stroke-linejoin="round"/><g transform="translate(751.2,317.1)"><path d="M-9.5,-1.5 L-2,-6.5 L10,-3 L3,3.5Z" fill="#f4f4f4"/><path d="M-6.5,-1.7 L-1.8,-4.8 L7,-2.5" fill="none" stroke="#6a6f73" stroke-width="0.7"/><ellipse cx="1.5" cy="0.5" rx="4.5" ry="3" fill="#f4f4f4"/><ellipse cx="1.5" cy="0.3" rx="2.2" ry="1.4" fill="#6a6f73"/><path d="M-3,2 L1,5 L4,4" fill="none" stroke="#f4f4f4" stroke-width="1.5"/></g>
<path d="M792.4,317.9 L822.5,302.6 L865.4,318.4 L865.4,328.2 L838.7,343.0 L792.4,327.7Z" fill="#43484b"/><path d="M792.4,317.9 L822.5,302.6 L865.4,318.4 L838.7,333.2Z" fill="#5f6467" stroke="#5f6467" stroke-width="0.4"/><path d="M792.4,317.9 L838.7,333.2 L838.7,343.0 L792.4,327.7Z" fill="#474c50"/><path d="M838.7,333.2 L865.4,318.4 L865.4,328.2 L838.7,343.0Z" fill="#3b4043"/><path d="M792.4,317.4 L793.9,318.2 L793.9,328.5 L792.4,327.7Z" fill="#6a7074"/><path d="M836.7,332.2 L839.7,332.7 L839.7,344.0 L836.7,343.2Z" fill="#7a8084"/><path d="M820.2,330.5 L831.8,334.3 L831.8,338.7 L820.2,334.9Z" fill="#545a5e"/><path d="M794.7,320.6 L801.7,322.9 L801.7,324.9 L794.7,322.6Z" fill="#5e7a3a"/><circle cx="834.1" cy="337.5" r="0.7" fill="#d0a030"/><path d="M807.3,317.9 L825.4,308.8 L851.1,318.2 L835.1,327.1Z" fill="none" stroke="#8d9397" stroke-width="0.7" stroke-linejoin="round"/><g transform="translate(829.8,318.0)"><path d="M-5,-5.5 Q0,-7.5 5,-5.5 L5,-0.5 Q4,4 0,6 Q-4,4 -5,-0.5Z" fill="#fff"/><path d="M-4,-4.8 Q0,-6.5 4,-4.8 L4,-0.5 Q3,3 0,5 Q-3,3 -4,-0.5Z" fill="#e01f26"/><rect x="-0.6" y="-4" width="1.2" height="4.5" fill="#fff"/><circle cx="0" cy="2.2" r="0.7" fill="#fff"/><path d="M-11,1.5 L-7,-0.5 M11,1 L7,-1" stroke="#e8e8e8" stroke-width="1.4"/></g>
<path d="M870,321.5 L899.7,304.7 L940.6,320.8 L940.6,330.6 L915.8,346.8 L870,331.3Z" fill="#43484b"/><path d="M870,321.5 L899.7,304.7 L940.6,320.8 L915.8,337Z" fill="#5f6467" stroke="#5f6467" stroke-width="0.4"/><path d="M870,321.5 L915.8,337 L915.8,346.8 L870,331.3Z" fill="#474c50"/><path d="M915.8,337 L940.6,320.8 L940.6,330.6 L915.8,346.8Z" fill="#3b4043"/><path d="M870,321.0 L871.5,321.8 L871.5,332.1 L870,331.3Z" fill="#6a7074"/><path d="M913.8,336 L916.8,336.5 L916.8,347.8 L913.8,347.0Z" fill="#7a8084"/><path d="M897.5,334.2 L908.9,338.1 L908.9,342.5 L897.5,338.6Z" fill="#545a5e"/><path d="M872.3,324.2 L879.2,326.6 L879.2,328.5 L872.3,326.2Z" fill="#5e7a3a"/><circle cx="911.2" cy="341.3" r="0.7" fill="#d0a030"/><path d="M884.6,321.3 L902.4,311.2 L927.0,320.9 L912.1,330.6Z" fill="none" stroke="#8d9397" stroke-width="0.7" stroke-linejoin="round"/><text x="906.5" y="321.0" dy="3.6" font-size="10" font-weight="bold" fill="#f2f2f2" text-anchor="middle" font-family="Liberation Sans, sans-serif" letter-spacing="0.5">GIS</text>
<path d="M944.3,322 L974,305 L1018.8,323 L1018.8,332.8 L991.5,348.8 L944.3,331.8Z" fill="#43484b"/><path d="M944.3,322 L974,305 L1018.8,323 L991.5,339Z" fill="#5f6467" stroke="#5f6467" stroke-width="0.4"/><path d="M944.3,322 L991.5,339 L991.5,348.8 L944.3,331.8Z" fill="#474c50"/><path d="M991.5,339 L1018.8,323 L1018.8,332.8 L991.5,348.8Z" fill="#3b4043"/><path d="M944.3,321.5 L945.8,322.3 L945.8,332.6 L944.3,331.8Z" fill="#6a7074"/><path d="M989.5,338 L992.5,338.5 L992.5,349.8 L989.5,349.0Z" fill="#7a8084"/><path d="M972.6,335.6 L984.4,339.9 L984.4,344.3 L972.6,340.0Z" fill="#545a5e"/><path d="M946.7,324.8 L953.7,327.4 L953.7,329.3 L946.7,326.8Z" fill="#5e7a3a"/><circle cx="986.8" cy="343.2" r="0.7" fill="#d0a030"/><path d="M959.4,322.1 L977.3,311.9 L1004.1,322.7 L987.8,332.3Z" fill="none" stroke="#8d9397" stroke-width="0.7" stroke-linejoin="round"/><g transform="translate(982.1,322.2)"><ellipse cx="0" cy="-1.5" rx="6.5" ry="5.2" fill="#eeeeee"/><g fill="#6a6f73"><circle cx="-2.6" cy="-3" r="1.4"/><circle cx="2.6" cy="-3" r="1.4"/><circle cx="-2.2" cy="0.6" r="1.4"/><circle cx="2.2" cy="0.6" r="1.4"/></g><circle cx="1.5" cy="5" r="2" fill="none" stroke="#cfd2d4" stroke-width="1"/></g>
<g stroke="#555b5f" stroke-width="2.2"><line x1="1065.3" y1="286.8" x2="1065.3" y2="307"/><line x1="1083.3" y1="291.8" x2="1083.3" y2="316"/></g>
<path d="M1024.3,323.4 L1054.7,304.8 L1090.7,319 L1090.7,327.5 L1059.7,345.0 L1024.3,331.9Z" fill="#43484b"/><path d="M1024.3,323.4 L1054.7,304.8 L1090.7,319 L1059.7,336.5Z" fill="#5f6467" stroke="#5f6467" stroke-width="0.4"/><path d="M1024.3,323.4 L1059.7,336.5 L1059.7,345.0 L1024.3,331.9Z" fill="#d3d6d8"/><path d="M1059.7,336.5 L1090.7,319 L1090.7,327.5 L1059.7,345.0Z" fill="#3b4043"/><path d="M1025.3,327.65 L1058.7,341.175 L1058.7,343.3 L1025.3,329.775Z" fill="#44524a"/><path d="M1037.5,322.4 L1055.8,311.2 L1077.4,319.8 L1058.8,330.3Z" fill="none" stroke="#8d9397" stroke-width="0.7" stroke-linejoin="round"/><g transform="translate(1057.3,320.9)"><rect x="-6" y="-4.2" width="12" height="8" fill="none" stroke="#e4e6e8" stroke-width="1.1"/><path d="M-6,-4.2 L0,0.8 L6,-4.2" fill="none" stroke="#e4e6e8" stroke-width="1.1"/></g>
<path d="M1096.8,320.8 L1124,304.7 L1170,320.8 L1170,330.6 L1145.2,347.3 L1096.8,330.6Z" fill="#43484b"/><path d="M1096.8,320.8 L1124,304.7 L1170,320.8 L1145.2,337.5Z" fill="#5f6467" stroke="#5f6467" stroke-width="0.4"/><path d="M1096.8,320.8 L1145.2,337.5 L1145.2,347.3 L1096.8,330.6Z" fill="#474c50"/><path d="M1145.2,337.5 L1170,320.8 L1170,330.6 L1145.2,347.3Z" fill="#3b4043"/><path d="M1096.8,320.3 L1098.3,321.1 L1098.3,331.40000000000003 L1096.8,330.6Z" fill="#6a7074"/><path d="M1143.2,336.5 L1146.2,337.0 L1146.2,348.3 L1143.2,347.5Z" fill="#7a8084"/><path d="M1125.8,334.2 L1137.9,338.4 L1137.9,342.8 L1125.8,338.7Z" fill="#545a5e"/><path d="M1099.2,323.6 L1106.5,326.1 L1106.5,328.1 L1099.2,325.6Z" fill="#5e7a3a"/><circle cx="1140.4" cy="341.7" r="0.7" fill="#d0a030"/><path d="M1111.7,320.9 L1128.0,311.2 L1155.6,320.9 L1140.7,330.9Z" fill="none" stroke="#8d9397" stroke-width="0.7" stroke-linejoin="round"/><g transform="translate(1134.0,320.9)"><path d="M-11,0.5 L0,-6 L11,0 L0,6.5Z" fill="#f0f0f0"/><ellipse cx="0" cy="-1" rx="3.8" ry="2" fill="#8a8f93"/><rect x="-3.8" y="-1" width="7.6" height="3.5" fill="#8a8f93"/><ellipse cx="0" cy="2.5" rx="3.8" ry="2" fill="#7a7f83"/><path d="M-6,0 L-4,-1 M6,0 L4,-1 M0,4.5 L0,6" stroke="#6a6f73" stroke-width="1"/></g>
<g>
 <path d="M1175.1,318.5 L1202.6,302.4 L1246.1,318.5 L1246.1,334.5 L1215.8,350.5 L1175.1,334.5Z" fill="#3a3f43"/>
 <path d="M1175.1,318.5 L1202.6,302.4 L1246.1,318.5 L1215.8,335Z" fill="#565c5e" stroke="#565c5e" stroke-width="0.4"/>
 <path d="M1175.1,318.5 L1215.8,335 L1215.8,350.5 L1175.1,334.5Z" fill="#4c5255"/>
 <path d="M1215.8,335 L1246.1,318.5 L1246.1,334.5 L1215.8,350.5Z" fill="#383d41"/>
 <path d="M1177,320.5 L1214,335.5 L1214,338.5 L1177,323.5Z" fill="#5a6063"/>
 <path d="M1176.9,325.6 L1185.5,328.9 L1185.5,331.1 L1176.9,327.8Z" fill="#6d7579"/><path d="M1186.2,329.1 L1194.9,332.4 L1194.9,334.6 L1186.2,331.3Z" fill="#6d7579"/><path d="M1195.6,332.6 L1204.2,335.9 L1204.2,338.1 L1195.6,334.8Z" fill="#6d7579"/><path d="M1205.0,336.1 L1213.6,339.4 L1213.6,341.6 L1205.0,338.3Z" fill="#6d7579"/><path d="M1176.9,328.2 L1185.5,331.5 L1185.5,333.7 L1176.9,330.4Z" fill="#6d7579"/><path d="M1186.2,331.7 L1194.9,335.0 L1194.9,337.2 L1186.2,333.9Z" fill="#6d7579"/><path d="M1195.6,335.2 L1204.2,338.5 L1204.2,340.7 L1195.6,337.4Z" fill="#6d7579"/><path d="M1205.0,338.7 L1213.6,342.0 L1213.6,344.2 L1205.0,340.9Z" fill="#6d7579"/><path d="M1176.9,330.8 L1185.5,334.1 L1185.5,336.3 L1176.9,333.0Z" fill="#6d7579"/><path d="M1186.2,334.3 L1194.9,337.6 L1194.9,339.8 L1186.2,336.5Z" fill="#6d7579"/><path d="M1195.6,337.8 L1204.2,341.1 L1204.2,343.3 L1195.6,340.0Z" fill="#6d7579"/><path d="M1205.0,341.3 L1213.6,344.6 L1213.6,346.8 L1205.0,343.5Z" fill="#6d7579"/><path d="M1176.9,333.4 L1185.5,336.7 L1185.5,338.9 L1176.9,335.6Z" fill="#6d7579"/><path d="M1186.2,336.9 L1194.9,340.2 L1194.9,342.4 L1186.2,339.1Z" fill="#6d7579"/><path d="M1195.6,340.4 L1204.2,343.7 L1204.2,345.9 L1195.6,342.6Z" fill="#6d7579"/><path d="M1205.0,343.9 L1213.6,347.2 L1213.6,349.4 L1205.0,346.1Z" fill="#6d7579"/>
 <path d="M1195,327 L1205,331 L1205,332.5 L1195,328.5Z" fill="#8a9a50"/>
 <path d="M1214,335 L1217,335.5 L1217,350 L1214,349Z" fill="#7a8084"/>
</g>
<text transform="translate(121.5,28.9) scale(0.995,0.89)" x="0" y="0" font-size="17.5" fill="#c4121b" font-weight="bold" text-anchor="middle" font-family="Liberation Serif, serif" >单兵执法系统</text>
<text transform="translate(130.7,156.4) scale(0.98,0.89)" x="0" y="0" font-size="13.5" fill="#111" font-weight="bold" text-anchor="middle" font-family="Liberation Serif, serif" >单兵前端</text>
<text transform="translate(121.6,208.4) scale(0.99,0.89)" x="0" y="0" font-size="17.5" fill="#c8141e" font-weight="bold" text-anchor="middle" font-family="Liberation Serif, serif" >车载取证系统</text>
<text transform="translate(58.7,308.4) scale(0.98,0.89)" x="0" y="0" font-size="13.5" fill="#111" font-weight="bold" text-anchor="middle" font-family="Liberation Serif, serif" >指挥车</text>
<text transform="translate(220,254.9) scale(0.98,0.89)" x="0" y="0" font-size="14" fill="#111" font-weight="bold" text-anchor="middle" font-family="Liberation Serif, serif" >押</text>
<text transform="translate(220,269.9) scale(0.98,0.89)" x="0" y="0" font-size="14" fill="#111" font-weight="bold" text-anchor="middle" font-family="Liberation Serif, serif" >解</text>
<text transform="translate(220,284.9) scale(0.98,0.89)" x="0" y="0" font-size="14" fill="#111" font-weight="bold" text-anchor="middle" font-family="Liberation Serif, serif" >车</text>
<text transform="translate(124,383.4) scale(1.005,0.89)" x="0" y="0" font-size="18.5" fill="#e3262b" font-weight="bold" text-anchor="middle" font-family="Liberation Serif, serif" >现场布控系统</text>
<text transform="translate(128.5,510.9) scale(0.98,0.89)" x="0" y="0" font-size="13.5" fill="#111" font-weight="bold" text-anchor="middle" font-family="Liberation Serif, serif" >应急布控球</text>
<text transform="translate(410,181.4) scale(1.01,0.86)" x="0" y="0" font-size="17.5" fill="#2f6b7c" font-weight="bold" text-anchor="middle" font-family="Liberation Serif, serif" >传输接入系统</text>
<text transform="translate(395,303.4) scale(1.01,0.89)" x="0" y="0" font-size="13" fill="#111" font-weight="bold" text-anchor="middle" font-family="Liberation Serif, serif" >3G/4G基站</text>
<text transform="translate(483,304.4) scale(0.98,0.89)" x="0" y="0" font-size="13.5" fill="#111" font-weight="bold" text-anchor="middle" font-family="Liberation Serif, serif" >运营商</text>
<text transform="translate(576,304.4) scale(0.98,0.89)" x="0" y="0" font-size="13.5" fill="#111" font-weight="bold" text-anchor="middle" font-family="Liberation Serif, serif" >安全隔离设备</text>
<text transform="translate(671,308.9) scale(0.98,0.89)" x="0" y="0" font-size="14" fill="#111" font-weight="bold" text-anchor="middle" font-family="Liberation Serif, serif" >核心交换机</text>
<text transform="translate(767,119.9) scale(0.98,0.89)" x="0" y="0" font-size="17.8" fill="#e97a2e" font-weight="bold" text-anchor="middle" font-family="Liberation Serif, serif" >应急指挥中心</text>
<text transform="translate(768,160.20000000000002) scale(0.98,0.89)" x="0" y="0" font-size="13.5" fill="#111" font-weight="bold" text-anchor="middle" font-family="Liberation Serif, serif" >控制键盘</text>
<text transform="translate(883,160.20000000000002) scale(0.98,0.89)" x="0" y="0" font-size="13.5" fill="#111" font-weight="bold" text-anchor="middle" font-family="Liberation Serif, serif" >监控客户端</text>
<text transform="translate(1001.5,160.20000000000002) scale(0.98,0.89)" x="0" y="0" font-size="13.5" fill="#111" font-weight="bold" text-anchor="middle" font-family="Liberation Serif, serif" >视频综合平台</text>
<text transform="translate(1147.8,160.20000000000002) scale(0.98,0.89)" x="0" y="0" font-size="13.5" fill="#111" font-weight="bold" text-anchor="middle" font-family="Liberation Serif, serif" >电视墙</text>
<text transform="translate(749.3,365.59999999999997) scale(0.98,0.89)" x="0" y="0" font-size="13.5" fill="#111" font-weight="bold" text-anchor="middle" font-family="Liberation Serif, serif" >中心管理</text>
<text transform="translate(749.3,381.09999999999997) scale(0.98,0.89)" x="0" y="0" font-size="13.5" fill="#111" font-weight="bold" text-anchor="middle" font-family="Liberation Serif, serif" >服务器</text>
<text transform="translate(830.6,365.59999999999997) scale(0.98,0.89)" x="0" y="0" font-size="13.5" fill="#111" font-weight="bold" text-anchor="middle" font-family="Liberation Serif, serif" >接处警管理</text>
<text transform="translate(830.6,381.09999999999997) scale(0.98,0.89)" x="0" y="0" font-size="13.5" fill="#111" font-weight="bold" text-anchor="middle" font-family="Liberation Serif, serif" >服务器</text>
<text transform="translate(907,365.59999999999997) scale(0.98,0.89)" x="0" y="0" font-size="13.5" fill="#111" font-weight="bold" text-anchor="middle" font-family="Liberation Serif, serif" >GIS地图</text>
<text transform="translate(907,381.09999999999997) scale(0.98,0.89)" x="0" y="0" font-size="13.5" fill="#111" font-weight="bold" text-anchor="middle" font-family="Liberation Serif, serif" >服务器</text>
<text transform="translate(987.5,365.59999999999997) scale(0.98,0.89)" x="0" y="0" font-size="13.5" fill="#111" font-weight="bold" text-anchor="middle" font-family="Liberation Serif, serif" >流媒体分发</text>
<text transform="translate(987.5,381.09999999999997) scale(0.98,0.89)" x="0" y="0" font-size="13.5" fill="#111" font-weight="bold" text-anchor="middle" font-family="Liberation Serif, serif" >服务器</text>
<text transform="translate(1060,365.59999999999997) scale(0.98,0.89)" x="0" y="0" font-size="13.5" fill="#111" font-weight="bold" text-anchor="middle" font-family="Liberation Serif, serif" >短信</text>
<text transform="translate(1060,381.09999999999997) scale(0.98,0.89)" x="0" y="0" font-size="13.5" fill="#111" font-weight="bold" text-anchor="middle" font-family="Liberation Serif, serif" >服务器</text>
<text transform="translate(1137,365.59999999999997) scale(0.98,0.89)" x="0" y="0" font-size="13.5" fill="#111" font-weight="bold" text-anchor="middle" font-family="Liberation Serif, serif" >存储管理</text>
<text transform="translate(1137,381.09999999999997) scale(0.98,0.89)" x="0" y="0" font-size="13.5" fill="#111" font-weight="bold" text-anchor="middle" font-family="Liberation Serif, serif" >服务器</text>
<text transform="translate(1213,373.9) scale(0.98,0.89)" x="0" y="0" font-size="13.5" fill="#111" font-weight="bold" text-anchor="middle" font-family="Liberation Serif, serif" >存储阵列</text>
<text transform="translate(482.7,406.4) scale(0.98,0.89)" x="0" y="0" font-size="13" fill="#111" font-weight="bold" text-anchor="middle" font-family="Liberation Serif, serif" >GPS信号</text>
<text transform="translate(482,448.59999999999997) scale(1.02,0.89)" x="0" y="0" font-size="13" fill="#111" font-weight="bold" text-anchor="middle" font-family="Liberation Serif, serif" >运营商3G/4G信号</text>
<text transform="translate(482.3,490.09999999999997) scale(1.01,0.89)" x="0" y="0" font-size="13" fill="#111" font-weight="bold" text-anchor="middle" font-family="Liberation Serif, serif" >自建4G移动基站信号</text>
</svg>
</body></html>
